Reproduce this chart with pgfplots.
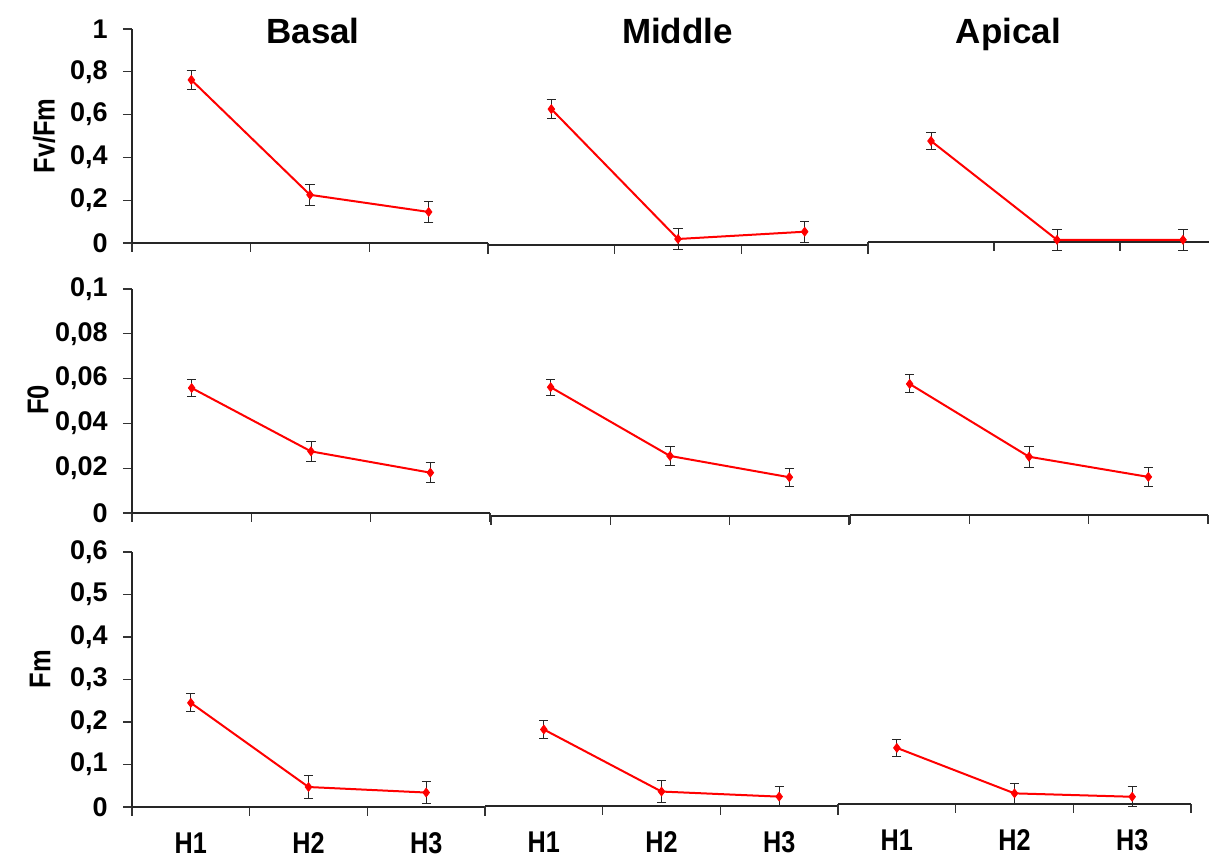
\documentclass[border=0pt]{standalone}
\usepackage{graphicx}
\usepackage{fontspec}
\setmainfont{Liberation Sans}
\usepackage{pgfplots}
\pgfplotsset{compat=1.18}

\pgfplotsset{
  panel/.style={
    scale only axis, anchor=south west, clip=false,
    xmin=-0.5, xmax=2.5, ymin=0,
    axis x line*=bottom,
    xtick={-0.5,0.5,1.5,2.5}, xticklabels={},
    tick align=outside, major tick length=4.5pt,
    axis line style={line width=0.75pt, black!85},
    every tick/.style={black!80, line width=0.6pt},
  },
  innerpanel/.style={axis y line=none, ytick=\empty},
  leftpanel/.style={
    axis y line*=left,
    yticklabel style={font=\fontsize{13.5}{15}\selectfont\bfseries, anchor=east, inner sep=0pt, xshift=-7.5pt},
  },
  bottompanel/.style={
    extra x ticks={0,1,2},
    extra x tick labels={\scalebox{0.84}[1]{H1},\scalebox{0.84}[1]{H2},\scalebox{0.84}[1]{H3}},
    extra x tick style={major tick length=0pt, xticklabel style={font=\fontsize{15}{16}\selectfont\bfseries, anchor=north, inner sep=0pt, yshift=-12.5pt}},
  },
  ser/.style={red, line width=1pt, mark=diamond*, mark size=2.2pt,
    mark options={fill=red, draw=red, line width=0.4pt},
    error bars/.cd, y dir=both, y explicit,
    error bar style={black!85, line width=0.5pt},
    error mark options={rotate=90, black!85, mark size=2.3pt, line width=0.5pt}},
}

\begin{document}
\begin{tikzpicture}
\useasboundingbox (0,0) rectangle (604.5pt,430pt);
\clip (0,0) rectangle (604.5pt,430pt);

% ---------- Row 1: Fv/Fm ----------
\begin{axis}[panel, leftpanel, at={(66pt,308.5pt)}, width=178pt, height=107pt, ymax=1,
  ytick={0,0.2,0.4,0.6,0.8,1}, yticklabels={0,{0,2},{0,4},{0,6},{0,8},1}]
\addplot[ser] table[x=x,y=y,y error=e] {
x y e
0 0.762 0.043
1 0.225 0.050
2 0.145 0.050
};
\end{axis}
\begin{axis}[panel, innerpanel, at={(244pt,307.5pt)}, width=190pt, height=107pt, ymax=1]
\addplot[ser] table[x=x,y=y,y error=e] {
x y e
0 0.635 0.043
1 0.028 0.050
2 0.062 0.050
};
\end{axis}
\begin{axis}[panel, innerpanel, at={(434pt,309pt)}, width=189pt, height=107pt, ymax=1]
\addplot[ser] table[x=x,y=y,y error=e] {
x y e
0 0.472 0.040
1 0.010 0.050
2 0.010 0.050
};
\end{axis}

% ---------- Row 2: F0 ----------
\begin{axis}[panel, leftpanel, at={(66pt,173.5pt)}, width=179pt, height=112pt, ymax=0.1,
  ytick={0,0.02,0.04,0.06,0.08,0.1}, yticklabels={0,{0,02},{0,04},{0,06},{0,08},{0,1}}]
\addplot[ser] table[x=x,y=y,y error=e] {
x y e
0 0.0558 0.0036
1 0.0275 0.0045
2 0.0180 0.0044
};
\end{axis}
\begin{axis}[panel, innerpanel, at={(245.5pt,172pt)}, width=179pt, height=112pt, ymax=0.1]
\addplot[ser] table[x=x,y=y,y error=e] {
x y e
0 0.0575 0.0035
1 0.0268 0.0044
2 0.0173 0.0040
};
\end{axis}
\begin{axis}[panel, innerpanel, at={(425pt,172.5pt)}, width=179pt, height=112pt, ymax=0.1]
\addplot[ser] table[x=x,y=y,y error=e] {
x y e
0 0.0585 0.0040
1 0.0260 0.0046
2 0.0170 0.0044
};
\end{axis}

% ---------- Row 3: Fm ----------
\begin{axis}[panel, leftpanel, bottompanel, at={(66pt,26.5pt)}, width=176.5pt, height=127.5pt, ymax=0.6,
  ytick={0,0.1,0.2,0.3,0.4,0.5,0.6}, yticklabels={0,{0,1},{0,2},{0,3},{0,4},{0,5},{0,6}}]
\addplot[ser] table[x=x,y=y,y error=e] {
x y e
0 0.245 0.021
1 0.047 0.027
2 0.034 0.025
};
\end{axis}
\begin{axis}[panel, innerpanel, bottompanel, at={(242.5pt,27pt)}, width=176.5pt, height=127.5pt, ymax=0.6]
\addplot[ser] table[x=x,y=y,y error=e] {
x y e
0 0.180 0.021
1 0.034 0.025
2 0.022 0.024
};
\end{axis}
\begin{axis}[panel, innerpanel, bottompanel, at={(419pt,28pt)}, width=176.5pt, height=127.5pt, ymax=0.6]
\addplot[ser] table[x=x,y=y,y error=e] {
x y e
0 0.132 0.020
1 0.025 0.024
2 0.017 0.024
};
\end{axis}

% ---------- Titles and axis labels ----------
\node[font=\fontsize{17.5}{18}\selectfont\bfseries, anchor=base] at (156.5pt,408pt) {Basal};
\node[font=\fontsize{17.5}{18}\selectfont\bfseries, anchor=base] at (338.75pt,408pt) {Middle};
\node[font=\fontsize{17.5}{18}\selectfont\bfseries, anchor=base] at (504.25pt,408pt) {Apical};
\node[font=\fontsize{15}{16}\selectfont\bfseries, rotate=90] at (22pt,362pt) {\scalebox{0.85}[1]{Fv/Fm}};
\node[font=\fontsize{15}{16}\selectfont\bfseries, rotate=90] at (19pt,230pt) {\scalebox{0.85}[1]{F0}};
\node[font=\fontsize{15}{16}\selectfont\bfseries, rotate=90] at (20pt,95.5pt) {\scalebox{0.85}[1]{Fm}};
\end{tikzpicture}
\end{document}
